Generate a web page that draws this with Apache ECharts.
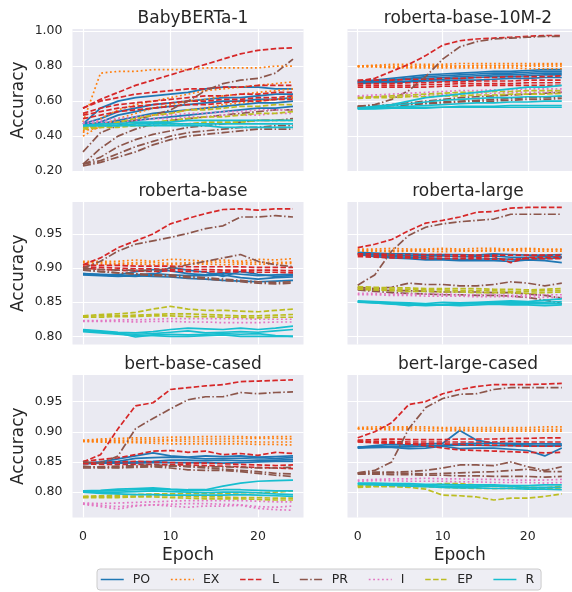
<!DOCTYPE html>
<html><head><meta charset="utf-8">
<script src="https://cdn.jsdelivr.net/npm/echarts@6/dist/echarts.min.js"></script>
<style>html,body{margin:0;padding:0;background:#fff}#c{width:572px;height:592px}</style>
</head><body><div id="c"></div>
<script>
// ---------------- DATA ----------------
const epochs = [0,2,4,6,8,10,12,14,16,18,20,22,24];
const categories = ['PO','EX','L','PR','I','EP','R'];
const panelTitles = ['BabyBERTa-1','roberta-base-10M-2','roberta-base','roberta-large','bert-base-cased','bert-large-cased'];
const xTicks = [0,10,20];
const yTicksTop = [0.2,0.4,0.6,0.8,1.0];
const yTicksLower = [0.80,0.85,0.90,0.95];

// BabyBERTa-1
const babyPO = [
 [0.47,0.56,0.60,0.62,0.63,0.64,0.65,0.67,0.68,0.68,0.68,0.67,0.67],
 [0.47,0.50,0.54,0.56,0.58,0.59,0.60,0.61,0.62,0.62,0.63,0.64,0.64],
 [0.46,0.48,0.52,0.54,0.56,0.57,0.58,0.59,0.60,0.60,0.61,0.61,0.62],
 [0.47,0.47,0.49,0.51,0.53,0.54,0.55,0.56,0.57,0.58,0.59,0.59,0.60],
 [0.47,0.47,0.48,0.49,0.50,0.51,0.52,0.53,0.54,0.55,0.56,0.56,0.57]];
const babyEX = [
 [0.48,0.76,0.77,0.77,0.78,0.78,0.78,0.79,0.79,0.79,0.79,0.80,0.80],
 [0.42,0.50,0.55,0.58,0.60,0.62,0.64,0.66,0.67,0.68,0.69,0.70,0.71],
 [0.40,0.46,0.50,0.53,0.56,0.58,0.60,0.61,0.63,0.64,0.65,0.66,0.67],
 [0.43,0.45,0.48,0.50,0.52,0.53,0.55,0.56,0.58,0.59,0.60,0.61,0.62]];
const babyL = [
 [0.56,0.61,0.65,0.69,0.72,0.75,0.78,0.81,0.84,0.87,0.89,0.90,0.905],
 [0.56,0.60,0.62,0.64,0.65,0.66,0.67,0.67,0.68,0.68,0.69,0.69,0.69],
 [0.53,0.56,0.58,0.59,0.60,0.61,0.62,0.63,0.63,0.64,0.64,0.65,0.65],
 [0.52,0.54,0.56,0.57,0.58,0.59,0.60,0.60,0.61,0.61,0.62,0.62,0.63],
 [0.50,0.52,0.54,0.55,0.56,0.57,0.58,0.58,0.59,0.60,0.60,0.61,0.61]];
const babyPR = [
 [0.31,0.42,0.46,0.49,0.52,0.55,0.60,0.66,0.70,0.72,0.73,0.76,0.84],
 [0.24,0.33,0.40,0.44,0.47,0.49,0.50,0.51,0.52,0.53,0.54,0.55,0.55],
 [0.24,0.28,0.34,0.38,0.41,0.43,0.45,0.46,0.47,0.48,0.49,0.49,0.50],
 [0.24,0.26,0.30,0.34,0.37,0.40,0.42,0.43,0.44,0.45,0.45,0.46,0.46],
 [0.23,0.25,0.28,0.31,0.35,0.38,0.40,0.41,0.42,0.43,0.44,0.44,0.44]];
const babyI = [
 [0.48,0.49,0.50,0.51,0.52,0.52,0.53,0.53,0.54,0.54,0.55,0.55,0.55],
 [0.47,0.48,0.48,0.49,0.50,0.50,0.51,0.51,0.52,0.52,0.52,0.53,0.53]];
const babyEP = [
 [0.45,0.46,0.48,0.50,0.52,0.53,0.55,0.55,0.56,0.57,0.57,0.58,0.58],
 [0.45,0.45,0.46,0.47,0.48,0.49,0.50,0.51,0.51,0.52,0.53,0.53,0.54],
 [0.44,0.45,0.45,0.46,0.46,0.47,0.47,0.48,0.48,0.48,0.49,0.49,0.49]];
const babyR = [
 [0.46,0.47,0.47,0.48,0.48,0.48,0.49,0.49,0.49,0.49,0.49,0.49,0.49],
 [0.46,0.46,0.46,0.47,0.47,0.47,0.47,0.47,0.47,0.47,0.47,0.47,0.47],
 [0.46,0.46,0.46,0.46,0.46,0.46,0.46,0.46,0.45,0.45,0.45,0.45,0.45]];

// roberta-base-10M-2
const r10mPO = [
 [0.71,0.72,0.73,0.74,0.75,0.755,0.76,0.765,0.77,0.77,0.775,0.78,0.78],
 [0.71,0.715,0.72,0.73,0.74,0.745,0.75,0.755,0.76,0.76,0.765,0.77,0.77],
 [0.715,0.715,0.72,0.725,0.73,0.735,0.74,0.745,0.75,0.75,0.755,0.76,0.76],
 [0.705,0.71,0.71,0.715,0.72,0.725,0.73,0.735,0.74,0.74,0.745,0.75,0.75],
 [0.70,0.705,0.705,0.71,0.715,0.715,0.72,0.72,0.725,0.73,0.73,0.735,0.735]];
const r10mEX = [
 [0.80,0.805,0.81,0.81,0.81,0.81,0.815,0.815,0.815,0.815,0.815,0.815,0.815],
 [0.80,0.80,0.80,0.80,0.80,0.80,0.80,0.80,0.80,0.80,0.80,0.80,0.80],
 [0.795,0.795,0.79,0.79,0.79,0.79,0.79,0.79,0.79,0.79,0.785,0.785,0.785],
 [0.80,0.80,0.795,0.795,0.80,0.80,0.80,0.805,0.805,0.805,0.805,0.81,0.81]];
const r10mL = [
 [0.715,0.73,0.77,0.81,0.86,0.92,0.945,0.955,0.96,0.965,0.97,0.975,0.975],
 [0.72,0.72,0.72,0.725,0.725,0.73,0.73,0.735,0.735,0.74,0.74,0.74,0.745],
 [0.70,0.70,0.70,0.705,0.705,0.71,0.71,0.715,0.715,0.715,0.72,0.72,0.72],
 [0.69,0.69,0.69,0.69,0.695,0.695,0.70,0.70,0.70,0.70,0.705,0.705,0.705],
 [0.68,0.68,0.68,0.68,0.68,0.685,0.685,0.69,0.69,0.69,0.69,0.69,0.69]];
const r10mPR = [
 [0.57,0.58,0.61,0.66,0.74,0.84,0.91,0.94,0.955,0.96,0.965,0.97,0.97],
 [0.57,0.575,0.58,0.59,0.60,0.61,0.62,0.625,0.63,0.635,0.64,0.645,0.65],
 [0.565,0.57,0.575,0.58,0.59,0.595,0.60,0.605,0.61,0.615,0.62,0.62,0.625],
 [0.57,0.57,0.575,0.58,0.585,0.59,0.595,0.60,0.60,0.605,0.61,0.61,0.615]];
const r10mI = [
 [0.63,0.635,0.64,0.645,0.65,0.655,0.66,0.66,0.665,0.665,0.67,0.67,0.67],
 [0.625,0.625,0.63,0.63,0.635,0.64,0.64,0.645,0.645,0.65,0.65,0.65,0.655]];
const r10mEP = [
 [0.62,0.625,0.63,0.635,0.64,0.645,0.65,0.65,0.655,0.655,0.66,0.66,0.66],
 [0.615,0.62,0.62,0.625,0.625,0.63,0.63,0.635,0.635,0.64,0.64,0.64,0.645]];
const r10mR = [
 [0.56,0.57,0.58,0.60,0.62,0.63,0.64,0.65,0.66,0.67,0.68,0.68,0.69],
 [0.56,0.565,0.575,0.585,0.595,0.605,0.61,0.615,0.62,0.62,0.625,0.625,0.63],
 [0.555,0.56,0.565,0.57,0.575,0.58,0.585,0.59,0.59,0.595,0.595,0.60,0.60],
 [0.555,0.555,0.56,0.56,0.565,0.565,0.57,0.57,0.57,0.575,0.575,0.575,0.575],
 [0.56,0.56,0.56,0.56,0.56,0.565,0.565,0.565,0.565,0.565,0.565,0.565,0.565]];

// roberta-base
const rbPO = [
 [0.892,0.891,0.890,0.895,0.898,0.896,0.892,0.890,0.893,0.891,0.889,0.890,0.891],
 [0.891,0.890,0.889,0.888,0.890,0.901,0.897,0.894,0.888,0.895,0.891,0.888,0.889],
 [0.890,0.889,0.888,0.889,0.888,0.887,0.885,0.884,0.882,0.881,0.880,0.881,0.882],
 [0.892,0.890,0.889,0.890,0.892,0.890,0.889,0.889,0.890,0.886,0.884,0.886,0.887]];
const rbEX = [
 [0.910,0.910,0.910,0.912,0.910,0.913,0.912,0.910,0.912,0.910,0.913,0.912,0.914],
 [0.908,0.908,0.907,0.908,0.908,0.907,0.908,0.908,0.909,0.908,0.909,0.908,0.909],
 [0.905,0.906,0.905,0.906,0.905,0.905,0.906,0.906,0.905,0.906,0.906,0.906,0.907]];
const rbL = [
 [0.905,0.915,0.930,0.940,0.950,0.965,0.973,0.980,0.986,0.987,0.985,0.987,0.987],
 [0.905,0.904,0.904,0.903,0.903,0.903,0.902,0.902,0.902,0.902,0.901,0.901,0.901],
 [0.902,0.901,0.900,0.899,0.899,0.898,0.898,0.898,0.897,0.897,0.897,0.897,0.896],
 [0.900,0.898,0.897,0.896,0.895,0.896,0.895,0.895,0.894,0.895,0.894,0.894,0.893]];
const rbPR = [
 [0.900,0.910,0.925,0.935,0.940,0.945,0.951,0.958,0.962,0.975,0.975,0.977,0.975],
 [0.900,0.898,0.897,0.897,0.896,0.900,0.905,0.910,0.915,0.920,0.910,0.905,0.902],
 [0.898,0.895,0.893,0.892,0.890,0.890,0.888,0.886,0.884,0.882,0.880,0.879,0.880],
 [0.897,0.895,0.893,0.891,0.889,0.888,0.886,0.884,0.882,0.880,0.878,0.877,0.878]];
const rbI = [
 [0.823,0.823,0.824,0.824,0.825,0.826,0.826,0.826,0.826,0.826,0.825,0.825,0.825],
 [0.822,0.822,0.822,0.821,0.822,0.822,0.821,0.821,0.820,0.820,0.820,0.821,0.821]];
const rbEP = [
 [0.830,0.832,0.833,0.835,0.840,0.844,0.840,0.838,0.838,0.837,0.836,0.838,0.840],
 [0.829,0.830,0.830,0.831,0.832,0.833,0.833,0.832,0.831,0.830,0.830,0.831,0.832],
 [0.828,0.828,0.829,0.829,0.830,0.830,0.829,0.829,0.828,0.828,0.827,0.828,0.828]];
const rbR = [
 [0.810,0.808,0.806,0.805,0.807,0.810,0.812,0.811,0.810,0.812,0.810,0.812,0.815],
 [0.808,0.806,0.804,0.803,0.804,0.806,0.808,0.805,0.806,0.807,0.806,0.808,0.810],
 [0.809,0.807,0.805,0.799,0.802,0.803,0.802,0.803,0.804,0.803,0.804,0.801,0.800],
 [0.807,0.805,0.803,0.801,0.801,0.800,0.800,0.801,0.802,0.800,0.800,0.800,0.800]];

// roberta-large
const rlPO = [
 [0.923,0.922,0.921,0.921,0.920,0.920,0.920,0.919,0.921,0.920,0.919,0.919,0.920],
 [0.922,0.920,0.919,0.918,0.918,0.918,0.917,0.917,0.918,0.916,0.916,0.917,0.917],
 [0.921,0.919,0.917,0.916,0.915,0.914,0.913,0.913,0.914,0.913,0.913,0.914,0.915],
 [0.920,0.917,0.915,0.914,0.912,0.912,0.911,0.911,0.911,0.910,0.912,0.911,0.908]];
const rlEX = [
 [0.928,0.928,0.929,0.928,0.928,0.929,0.928,0.929,0.929,0.928,0.929,0.928,0.928],
 [0.926,0.926,0.926,0.926,0.927,0.927,0.926,0.926,0.927,0.927,0.928,0.927,0.927],
 [0.925,0.925,0.924,0.925,0.925,0.924,0.925,0.925,0.925,0.926,0.925,0.925,0.925]];
const rlL = [
 [0.930,0.935,0.942,0.955,0.966,0.970,0.975,0.982,0.983,0.988,0.989,0.989,0.989],
 [0.921,0.921,0.920,0.920,0.920,0.920,0.919,0.919,0.919,0.919,0.919,0.919,0.919],
 [0.919,0.918,0.918,0.917,0.917,0.917,0.917,0.916,0.917,0.908,0.916,0.916,0.916],
 [0.917,0.916,0.915,0.915,0.914,0.914,0.914,0.914,0.913,0.913,0.914,0.914,0.914]];
const rlPR = [
 [0.875,0.890,0.925,0.948,0.960,0.965,0.968,0.970,0.972,0.979,0.979,0.979,0.979],
 [0.872,0.870,0.872,0.878,0.876,0.876,0.874,0.874,0.876,0.880,0.878,0.874,0.878],
 [0.870,0.868,0.867,0.867,0.866,0.865,0.865,0.865,0.864,0.864,0.862,0.860,0.856],
 [0.868,0.866,0.864,0.863,0.862,0.861,0.861,0.860,0.860,0.859,0.857,0.853,0.848]];
const rlI = [
 [0.863,0.863,0.862,0.862,0.862,0.862,0.861,0.861,0.861,0.860,0.860,0.861,0.861],
 [0.861,0.861,0.860,0.860,0.859,0.859,0.859,0.858,0.858,0.858,0.858,0.857,0.857]];
const rlEP = [
 [0.873,0.872,0.871,0.871,0.870,0.870,0.870,0.870,0.869,0.869,0.868,0.869,0.870],
 [0.871,0.870,0.869,0.869,0.868,0.868,0.867,0.867,0.867,0.866,0.866,0.867,0.867],
 [0.869,0.868,0.867,0.866,0.866,0.865,0.865,0.864,0.864,0.864,0.863,0.864,0.865]];
const rlR = [
 [0.852,0.851,0.850,0.849,0.848,0.850,0.849,0.850,0.851,0.852,0.851,0.853,0.855],
 [0.851,0.850,0.849,0.848,0.846,0.847,0.848,0.849,0.849,0.850,0.850,0.850,0.851],
 [0.850,0.849,0.848,0.845,0.847,0.846,0.847,0.848,0.848,0.849,0.848,0.848,0.848],
 [0.851,0.849,0.847,0.846,0.845,0.846,0.845,0.846,0.847,0.846,0.846,0.845,0.846]];

// bert-base-cased
const bbPO = [
 [0.848,0.850,0.855,0.860,0.865,0.860,0.858,0.860,0.859,0.860,0.858,0.859,0.860],
 [0.847,0.849,0.851,0.856,0.857,0.858,0.857,0.855,0.856,0.856,0.857,0.856,0.857],
 [0.849,0.848,0.849,0.850,0.851,0.853,0.853,0.852,0.853,0.852,0.853,0.853,0.854],
 [0.847,0.848,0.848,0.848,0.849,0.849,0.849,0.849,0.848,0.849,0.850,0.851,0.851]];
const bbEX = [
 [0.886,0.888,0.889,0.890,0.890,0.891,0.891,0.892,0.892,0.892,0.891,0.892,0.892],
 [0.885,0.886,0.886,0.887,0.887,0.887,0.888,0.888,0.888,0.889,0.889,0.889,0.888],
 [0.884,0.884,0.884,0.884,0.884,0.885,0.884,0.884,0.884,0.884,0.883,0.883,0.883],
 [0.884,0.883,0.882,0.882,0.881,0.880,0.880,0.880,0.880,0.880,0.879,0.879,0.878]];
const bbL = [
 [0.850,0.862,0.905,0.943,0.948,0.970,0.973,0.976,0.978,0.983,0.984,0.985,0.986],
 [0.851,0.854,0.857,0.862,0.868,0.869,0.866,0.868,0.862,0.864,0.861,0.866,0.864],
 [0.848,0.849,0.850,0.851,0.850,0.849,0.848,0.848,0.847,0.846,0.845,0.844,0.845],
 [0.847,0.846,0.846,0.846,0.846,0.845,0.845,0.844,0.843,0.842,0.841,0.840,0.839]];
const bbPR = [
 [0.850,0.848,0.860,0.905,0.922,0.938,0.953,0.958,0.958,0.965,0.963,0.965,0.966],
 [0.842,0.842,0.843,0.844,0.845,0.844,0.842,0.840,0.838,0.836,0.834,0.831,0.830],
 [0.843,0.841,0.840,0.841,0.842,0.840,0.837,0.836,0.836,0.834,0.831,0.828,0.826],
 [0.840,0.840,0.841,0.842,0.843,0.843,0.843,0.842,0.842,0.841,0.840,0.840,0.841]];
const bbI = [
 [0.782,0.781,0.782,0.783,0.784,0.785,0.786,0.786,0.786,0.786,0.785,0.784,0.784],
 [0.781,0.778,0.776,0.778,0.779,0.780,0.781,0.781,0.780,0.779,0.776,0.775,0.777],
 [0.780,0.776,0.772,0.777,0.779,0.777,0.775,0.777,0.777,0.778,0.773,0.771,0.770]];
const bbEP = [
 [0.793,0.794,0.795,0.796,0.797,0.797,0.798,0.798,0.798,0.799,0.799,0.800,0.802],
 [0.792,0.792,0.793,0.793,0.794,0.794,0.793,0.792,0.792,0.791,0.791,0.790,0.790],
 [0.791,0.791,0.791,0.792,0.792,0.791,0.790,0.789,0.789,0.789,0.788,0.787,0.787]];
const bbR = [
 [0.802,0.803,0.805,0.806,0.807,0.805,0.804,0.804,0.810,0.815,0.818,0.819,0.820],
 [0.802,0.802,0.803,0.804,0.804,0.804,0.803,0.803,0.804,0.804,0.803,0.802,0.802],
 [0.801,0.800,0.800,0.801,0.802,0.801,0.800,0.799,0.800,0.800,0.799,0.797,0.796],
 [0.800,0.798,0.797,0.796,0.796,0.795,0.795,0.795,0.795,0.796,0.795,0.794,0.793]];

// bert-large-cased
const blPO = [
 [0.874,0.877,0.879,0.878,0.880,0.881,0.902,0.886,0.881,0.879,0.878,0.876,0.877],
 [0.874,0.875,0.876,0.876,0.876,0.877,0.878,0.878,0.877,0.877,0.876,0.877,0.878],
 [0.875,0.874,0.874,0.872,0.873,0.876,0.872,0.873,0.873,0.871,0.869,0.860,0.873],
 [0.873,0.874,0.875,0.875,0.877,0.878,0.880,0.881,0.881,0.881,0.880,0.880,0.880]];
const blEX = [
 [0.907,0.908,0.908,0.908,0.908,0.907,0.907,0.907,0.907,0.907,0.907,0.908,0.908],
 [0.905,0.905,0.906,0.906,0.905,0.905,0.904,0.904,0.904,0.904,0.904,0.904,0.904],
 [0.905,0.904,0.903,0.903,0.902,0.902,0.902,0.901,0.901,0.901,0.901,0.901,0.901]];
const blL = [
 [0.890,0.900,0.915,0.945,0.950,0.963,0.970,0.975,0.978,0.978,0.978,0.979,0.980],
 [0.886,0.887,0.888,0.887,0.887,0.887,0.888,0.888,0.888,0.889,0.889,0.890,0.890],
 [0.885,0.884,0.884,0.883,0.883,0.883,0.883,0.883,0.883,0.884,0.883,0.883,0.883],
 [0.883,0.882,0.882,0.880,0.877,0.873,0.870,0.869,0.868,0.867,0.866,0.865,0.866],
 [0.884,0.882,0.881,0.880,0.880,0.880,0.879,0.878,0.878,0.877,0.876,0.876,0.876]];
const blPR = [
 [0.832,0.836,0.850,0.905,0.940,0.955,0.962,0.963,0.970,0.973,0.973,0.973,0.973],
 [0.832,0.833,0.833,0.834,0.836,0.840,0.845,0.845,0.844,0.850,0.842,0.836,0.842],
 [0.831,0.831,0.832,0.831,0.830,0.831,0.832,0.833,0.834,0.836,0.838,0.834,0.834],
 [0.830,0.830,0.829,0.829,0.828,0.828,0.827,0.827,0.826,0.826,0.826,0.825,0.826]];
const blI = [
 [0.820,0.821,0.822,0.822,0.823,0.822,0.822,0.821,0.821,0.820,0.820,0.820,0.821],
 [0.818,0.819,0.819,0.818,0.818,0.818,0.817,0.817,0.816,0.816,0.816,0.815,0.816]];
const blEP = [
 [0.811,0.810,0.810,0.808,0.805,0.795,0.794,0.792,0.787,0.790,0.790,0.793,0.797],
 [0.810,0.810,0.810,0.809,0.809,0.808,0.807,0.806,0.806,0.806,0.806,0.806,0.807],
 [0.808,0.809,0.809,0.809,0.811,0.814,0.814,0.812,0.810,0.809,0.808,0.807,0.810]];
const blR = [
 [0.815,0.815,0.814,0.814,0.813,0.813,0.812,0.812,0.812,0.811,0.811,0.812,0.812],
 [0.814,0.813,0.812,0.812,0.811,0.810,0.810,0.810,0.810,0.809,0.808,0.808,0.808],
 [0.813,0.812,0.811,0.810,0.809,0.808,0.807,0.807,0.806,0.806,0.805,0.805,0.804]];

// ---------------- CHART ----------------
const panels = [
 [babyPO,babyEX,babyL,babyPR,babyI,babyEP,babyR],
 [r10mPO,r10mEX,r10mL,r10mPR,r10mI,r10mEP,r10mR],
 [rbPO,rbEX,rbL,rbPR,rbI,rbEP,rbR],
 [rlPO,rlEX,rlL,rlPR,rlI,rlEP,rlR],
 [bbPO,bbEX,bbL,bbPR,bbI,bbEP,bbR],
 [blPO,blEX,blL,blPR,blI,blEP,blR]
];
const colors = ['#1f77b4','#ff7f0e','#d62728','#8c564b','#e377c2','#bcbd22','#17becf'];
const dashes = ['solid',[1.8,2.6],[5.5,2.4],[8,2.4,1.5,2.4],[1.8,2.6],[5.5,2.4],'solid'];
const FONT = '"DejaVu Sans", sans-serif';
const TXT = '#262626';
const colLeft = [72.5, 347.5];
const rowTop = [29, 202, 375];
const plotW = 231, plotH = 142.5;
const yRange = [[0.198,1.012],[0.788,0.997],[0.758,0.994]];
const titleTop = [5, 178, 351];

const grid = [], xAxis = [], yAxis = [], title = [], series = [];
for (let p = 0; p < 6; p++) {
  const r = Math.floor(p / 2), c = p % 2;
  grid.push({left: colLeft[c], top: rowTop[r], width: plotW, height: plotH,
    show: true, backgroundColor: '#EAEAF2', borderWidth: 0});
  xAxis.push({type: 'value', gridIndex: p, min: -1.2, max: 25.2,
    axisLine: {show: false}, axisTick: {show: false, customValues: xTicks},
    axisLabel: {show: r === 2, customValues: xTicks, color: TXT, fontFamily: FONT, fontSize: 12.5, margin: 13},
    splitLine: {show: true, lineStyle: {color: '#ffffff', width: 1.2}},
    name: r === 2 ? 'Epoch' : '', nameLocation: 'middle', nameGap: 30,
    nameTextStyle: {color: TXT, fontFamily: FONT, fontSize: 17}});
  const yt = r === 0 ? yTicksTop : yTicksLower;
  yAxis.push({type: 'value', gridIndex: p, min: yRange[r][0], max: yRange[r][1],
    axisLine: {show: false}, axisTick: {show: false, customValues: yt},
    axisLabel: {show: c === 0, customValues: yt, color: TXT, fontFamily: FONT, fontSize: 12.5, margin: 10,
      formatter: v => v.toFixed(2)},
    splitLine: {show: true, lineStyle: {color: '#ffffff', width: 1.2}},
    name: c === 0 ? 'Accuracy' : '', nameLocation: 'middle', nameGap: 45, nameRotate: 90,
    nameTextStyle: {color: TXT, fontFamily: FONT, fontSize: 17}});
  title.push({text: panelTitles[p], left: colLeft[c] + plotW / 2, top: titleTop[r], textAlign: 'center',
    textStyle: {color: TXT, fontFamily: FONT, fontSize: 17, fontWeight: 'normal'}});
  panels[p].forEach((lines, k) => {
    lines.forEach(vals => {
      series.push({type: 'line', name: categories[k], xAxisIndex: p, yAxisIndex: p,
        data: epochs.map((e, i) => [e, vals[i]]), symbol: 'none', showSymbol: false,
        silent: true, animation: false, clip: true,
        itemStyle: {color: colors[k]},
        lineStyle: {color: colors[k], width: 1.7, type: dashes[k]}});
    });
  });
}

const chart = echarts.init(document.getElementById('c'), null, {renderer: 'canvas'});
chart.setOption({
  animation: false,
  backgroundColor: '#ffffff',
  title, grid, xAxis, yAxis, series,
  legend: {data: categories, left: 97, top: 569, orient: 'horizontal',
    itemWidth: 23, itemHeight: 14, itemGap: 20, padding: [4, 7, 4, 3],
    borderColor: '#cccccc', borderWidth: 1, borderRadius: 3, backgroundColor: '#EEEEF4',
    selectedMode: false,
    itemStyle: {opacity: 0},
    lineStyle: {width: 1.5},
    textStyle: {color: TXT, fontFamily: FONT, fontSize: 12.5, padding: [0, 0, 0, 4]}}
});
</script></body></html>
